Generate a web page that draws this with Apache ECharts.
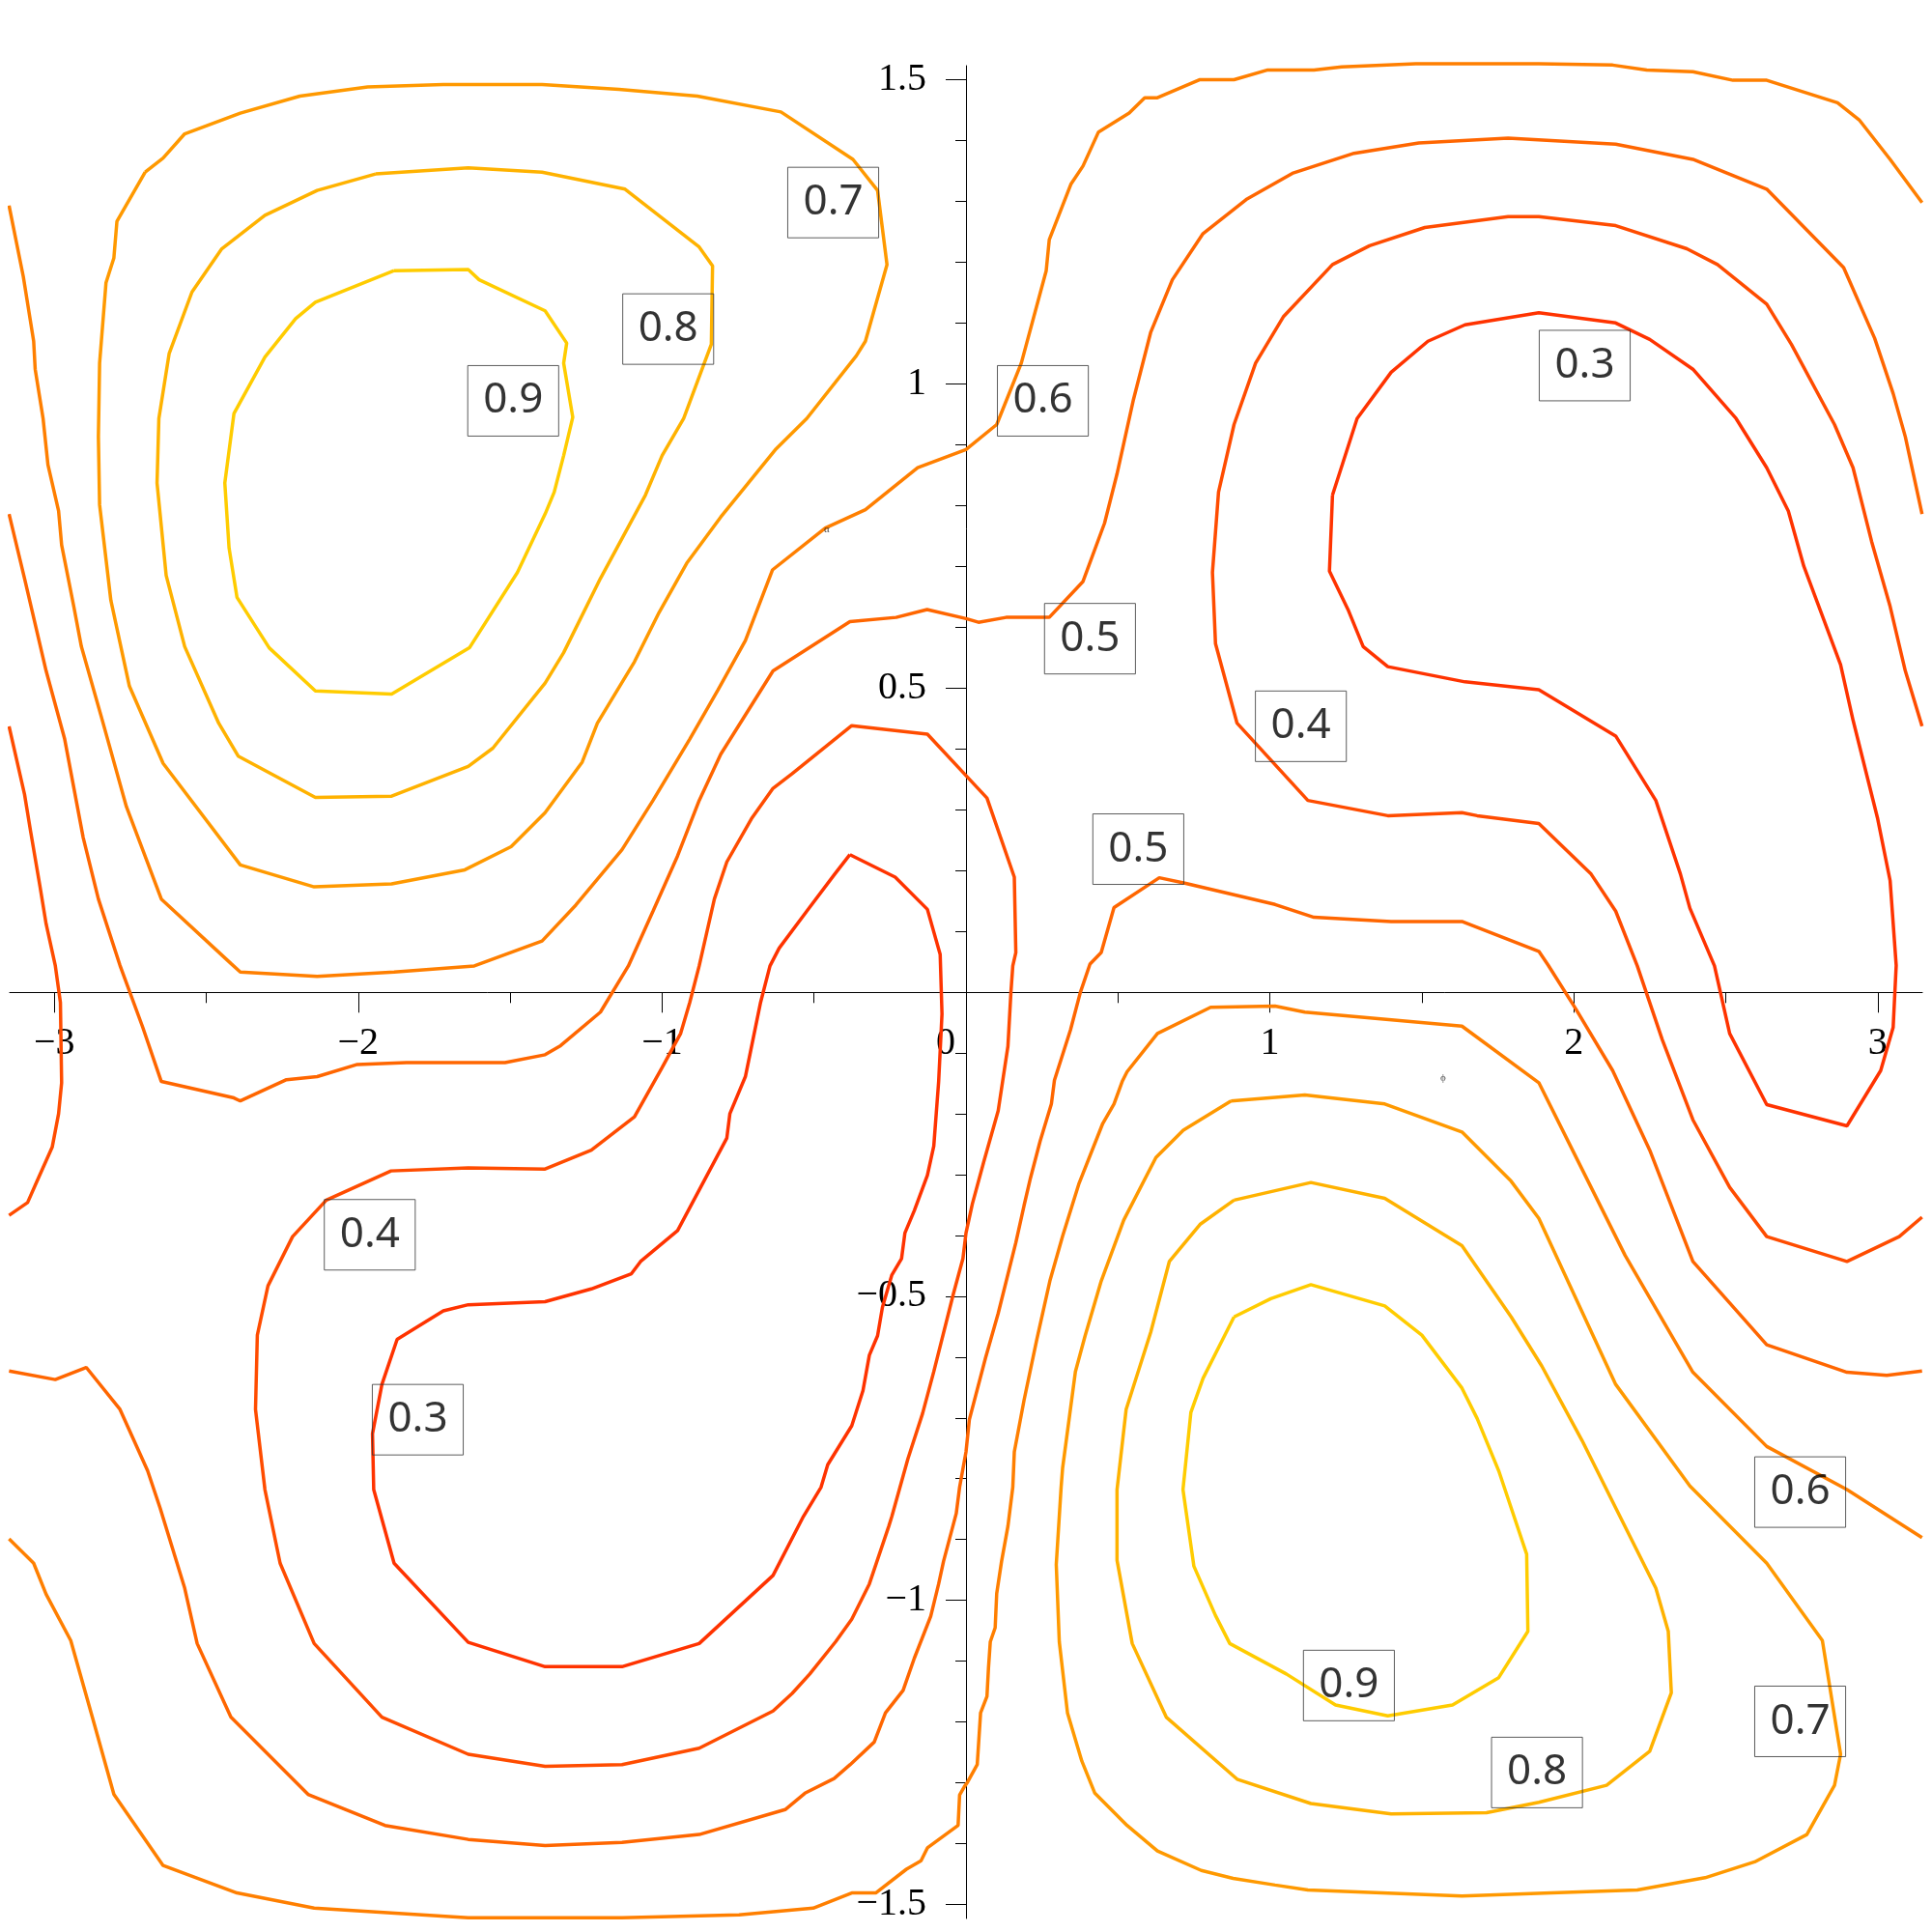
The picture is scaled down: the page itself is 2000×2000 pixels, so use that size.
<!DOCTYPE html>
<html>
<head>
<meta charset="utf-8">
<script src="https://cdn.jsdelivr.net/npm/echarts@6/dist/echarts.min.js"></script>
<style>
  html, body { margin: 0; padding: 0; background: #fff; }
  #main { width: 2000px; height: 2000px; }
</style>
</head>
<body>
<div id="main"></div>
<script>
var chartDom = document.getElementById('main');
var myChart = echarts.init(chartDom);
var option;

// axis ranges and ticks
const xRange = [-3.147, 3.147];
const yRange = [-1.523, 1.523];
const xMajor = [-3, -2, -1, 0, 1, 2, 3];
const xMinor = [-2.5, -1.5, -0.5, 0.5, 1.5, 2.5];
const yMajor = [-1.5, -1, -0.5, 0, 0.5, 1, 1.5];
const yLabels = [-1.5, -1, -0.5, 0.5, 1, 1.5];
const yMinor = [-1.4, -1.3, -1.2, -1.1, -0.9, -0.8, -0.7, -0.6, -0.4, -0.3, -0.2, -0.1,
  0.1, 0.2, 0.3, 0.4, 0.6, 0.7, 0.8, 0.9, 1.1, 1.2, 1.3, 1.4];

// contour lines, [x, y]
const c09top = [[-1.882,1.186],[-1.638,1.188],[-1.602,1.171],[-1.385,1.120],[-1.314,1.067],[-1.324,1.034],[-1.294,0.945],[-1.324,0.882],[-1.355,0.822],[-1.385,0.786],[-1.476,0.690],[-1.634,0.566],[-1.890,0.490],[-2.141,0.495],[-2.293,0.566],[-2.399,0.649],[-2.425,0.730],[-2.439,0.837],[-2.409,0.951],[-2.307,1.044],[-2.206,1.107],[-2.141,1.134],[-1.882,1.186]];
const c08top = [[-1.943,1.345],[-1.638,1.355],[-1.395,1.348],[-1.122,1.320],[-0.878,1.225],[-0.834,1.194],[-0.838,1.065],[-0.929,0.943],[-1.000,0.882],[-1.055,0.817],[-1.203,0.680],[-1.324,0.558],[-1.385,0.508],[-1.557,0.401],[-1.638,0.371],[-1.890,0.322],[-2.141,0.320],[-2.395,0.388],[-2.459,0.442],[-2.571,0.568],[-2.632,0.685],[-2.662,0.837],[-2.656,0.943],[-2.622,1.050],[-2.547,1.151],[-2.449,1.222],[-2.307,1.277],[-2.135,1.318],[-1.943,1.345]];
const c07top = [[-2.701,1.348],[-2.642,1.371],[-2.571,1.411],[-2.388,1.445],[-2.192,1.473],[-1.969,1.488],[-1.720,1.492],[-1.395,1.492],[-1.142,1.484],[-0.884,1.473],[-0.609,1.447],[-0.372,1.369],[-0.291,1.318],[-0.260,1.196],[-0.331,1.070],[-0.361,1.046],[-0.524,0.943],[-0.625,0.893],[-0.716,0.837],[-0.807,0.781],[-0.919,0.705],[-1.010,0.624],[-1.091,0.543],[-1.213,0.442],[-1.263,0.378],[-1.385,0.295],[-1.497,0.239],[-1.649,0.201],[-1.890,0.178],[-2.145,0.173],[-2.388,0.209],[-2.642,0.376],[-2.753,0.503],[-2.814,0.644],[-2.851,0.801],[-2.855,0.913],[-2.851,1.034],[-2.830,1.166],[-2.804,1.207],[-2.794,1.267],[-2.701,1.348]];
const c06top = [[-3.149,1.293],[-3.102,1.176],[-3.068,1.070],[-3.063,1.024],[-3.037,0.943],[-3.021,0.867],[-2.986,0.791],[-2.976,0.735],[-2.936,0.634],[-2.911,0.568],[-2.845,0.452],[-2.763,0.305],[-2.648,0.153],[-2.419,0.047],[-2.388,0.033],[-2.135,0.026],[-1.882,0.033],[-1.618,0.043],[-1.395,0.084],[-1.284,0.143],[-1.132,0.234],[-1.030,0.315],[-0.909,0.416],[-0.816,0.497],[-0.726,0.578],[-0.637,0.694],[-0.463,0.763],[-0.331,0.793],[-0.159,0.862],[0.000,0.892],[0.101,0.933],[0.182,1.034],[0.264,1.186],[0.274,1.237],[0.345,1.328],[0.385,1.358],[0.436,1.414],[0.537,1.445],[0.588,1.470],[0.628,1.470],[0.770,1.500],[0.882,1.500],[0.993,1.516],[1.145,1.516],[1.236,1.521],[1.480,1.526],[1.885,1.526],[2.128,1.524],[2.240,1.516],[2.392,1.513],[2.524,1.499],[2.635,1.499],[2.868,1.462],[2.939,1.434],[3.041,1.369],[3.146,1.298]];
const c05top = [[-3.149,0.786],[-3.098,0.680],[-3.027,0.528],[-2.966,0.416],[-2.905,0.254],[-2.855,0.153],[-2.784,0.044],[-2.709,-0.058],[-2.648,-0.147],[-2.409,-0.174],[-2.388,-0.179],[-2.236,-0.144],[-2.135,-0.139],[-2.003,-0.119],[-1.841,-0.116],[-1.517,-0.116],[-1.385,-0.103],[-1.334,-0.088],[-1.203,-0.033],[-1.111,0.043],[-1.030,0.133],[-0.949,0.224],[-0.878,0.315],[-0.807,0.391],[-0.635,0.528],[-0.382,0.609],[-0.230,0.616],[-0.128,0.629],[0.000,0.614],[0.041,0.608],[0.132,0.616],[0.274,0.616],[0.385,0.675],[0.456,0.771],[0.497,0.852],[0.551,0.974],[0.608,1.085],[0.679,1.171],[0.780,1.247],[0.922,1.303],[1.074,1.346],[1.277,1.379],[1.490,1.396],[1.784,1.404],[2.138,1.394],[2.392,1.369],[2.635,1.320],[2.888,1.191],[2.990,1.075],[3.051,0.984],[3.091,0.913],[3.146,0.786]];
const c04left = [[-3.149,0.437],[-3.098,0.325],[-3.078,0.264],[-3.047,0.173],[-3.027,0.112],[-2.997,0.044],[-2.980,-0.017],[-2.976,-0.149],[-2.986,-0.200],[-3.007,-0.255],[-3.057,-0.311],[-3.088,-0.346],[-3.149,-0.367]];
const c04right = [[3.146,-0.370],[3.071,-0.402],[2.899,-0.443],[2.635,-0.402],[2.513,-0.321],[2.392,-0.210],[2.291,-0.078],[2.209,0.043],[2.138,0.133],[2.057,0.194],[1.885,0.277],[1.682,0.290],[1.632,0.295],[1.388,0.290],[1.125,0.315],[0.892,0.442],[0.821,0.573],[0.811,0.690],[0.831,0.822],[0.882,0.933],[0.953,1.034],[1.044,1.110],[1.206,1.196],[1.328,1.227],[1.510,1.257],[1.784,1.275],[1.885,1.275],[2.138,1.260],[2.372,1.222],[2.473,1.196],[2.635,1.131],[2.716,1.065],[2.858,0.933],[2.919,0.862],[2.980,0.741],[3.041,0.634],[3.091,0.528],[3.146,0.437]];
const c03right = [[1.206,0.817],[1.287,0.943],[1.399,1.019],[1.520,1.070],[1.642,1.097],[1.885,1.117],[2.138,1.100],[2.250,1.073],[2.392,1.024],[2.534,0.943],[2.635,0.862],[2.706,0.791],[2.757,0.700],[2.878,0.538],[2.919,0.447],[3.000,0.285],[3.041,0.183],[3.061,0.044],[3.051,-0.058],[3.010,-0.129],[2.899,-0.220],[2.635,-0.185],[2.513,-0.068],[2.463,0.043],[2.382,0.138],[2.351,0.194],[2.270,0.315],[2.138,0.421],[1.885,0.497],[1.642,0.510],[1.388,0.535],[1.307,0.568],[1.257,0.629],[1.196,0.692],[1.206,0.817]];
const c03low = [[-0.382,0.226],[-0.233,0.189],[-0.127,0.136],[-0.085,0.062],[-0.079,-0.036],[-0.090,-0.147],[-0.106,-0.253],[-0.127,-0.301],[-0.170,-0.359],[-0.201,-0.396],[-0.212,-0.438],[-0.244,-0.465],[-0.275,-0.518],[-0.291,-0.565],[-0.318,-0.597],[-0.339,-0.655],[-0.376,-0.713],[-0.455,-0.777],[-0.477,-0.814],[-0.535,-0.862],[-0.635,-0.959],[-0.878,-1.071],[-1.132,-1.109],[-1.385,-1.109],[-1.638,-1.069],[-1.882,-0.939],[-1.949,-0.818],[-1.953,-0.726],[-1.922,-0.645],[-1.872,-0.571],[-1.720,-0.524],[-1.638,-0.514],[-1.385,-0.509],[-1.233,-0.488],[-1.101,-0.463],[-1.071,-0.443],[-0.949,-0.392],[-0.787,-0.240],[-0.777,-0.200],[-0.726,-0.139],[-0.676,-0.017],[-0.645,0.043],[-0.615,0.072],[-0.524,0.133],[-0.432,0.194],[-0.382,0.226]];
const c04low = [[-0.572,0.359],[-0.376,0.438],[-0.127,0.424],[0.000,0.356],[0.069,0.319],[0.159,0.189],[0.164,0.065],[0.154,0.043],[0.148,0.001],[0.138,-0.089],[0.106,-0.195],[0.058,-0.280],[0.021,-0.348],[0.000,-0.396],[-0.010,-0.438],[-0.042,-0.497],[-0.106,-0.624],[-0.143,-0.693],[-0.191,-0.767],[-0.244,-0.862],[-0.254,-0.878],[-0.318,-0.973],[-0.376,-1.031],[-0.429,-1.068],[-0.514,-1.121],[-0.572,-1.153],[-0.635,-1.182],[-0.878,-1.243],[-1.132,-1.270],[-1.385,-1.273],[-1.638,-1.253],[-1.922,-1.192],[-2.145,-1.071],[-2.257,-0.939],[-2.307,-0.818],[-2.338,-0.686],[-2.332,-0.564],[-2.297,-0.483],[-2.216,-0.402],[-2.105,-0.342],[-1.892,-0.294],[-1.638,-0.289],[-1.385,-0.291],[-1.233,-0.260],[-1.091,-0.205],[-1.000,-0.124],[-0.939,-0.068],[-0.909,-0.017],[-0.878,0.043],[-0.828,0.153],[-0.787,0.214],[-0.706,0.285],[-0.635,0.335],[-0.572,0.359]];
const c05low = [[-3.149,-0.623],[-2.997,-0.637],[-2.895,-0.617],[-2.784,-0.686],[-2.693,-0.787],[-2.652,-0.848],[-2.571,-0.980],[-2.530,-1.071],[-2.419,-1.192],[-2.165,-1.319],[-1.912,-1.370],[-1.638,-1.393],[-1.385,-1.403],[-1.132,-1.398],[-0.878,-1.385],[-0.595,-1.344],[-0.530,-1.317],[-0.434,-1.293],[-0.381,-1.270],[-0.302,-1.233],[-0.265,-1.185],[-0.207,-1.148],[-0.170,-1.095],[-0.116,-1.026],[-0.090,-0.973],[-0.074,-0.936],[-0.032,-0.857],[-0.021,-0.814],[0.000,-0.756],[0.011,-0.703],[0.064,-0.602],[0.106,-0.528],[0.164,-0.412],[0.191,-0.351],[0.212,-0.306],[0.244,-0.245],[0.281,-0.184],[0.291,-0.145],[0.344,-0.062],[0.376,-0.001],[0.408,0.046],[0.445,0.065],[0.487,0.139],[0.636,0.188],[0.720,0.179],[1.017,0.144],[1.145,0.123],[1.399,0.116],[1.632,0.116],[1.885,0.067],[1.916,0.044],[2.007,-0.028],[2.128,-0.129],[2.250,-0.260],[2.392,-0.443],[2.635,-0.580],[2.899,-0.625],[3.030,-0.630],[3.146,-0.623]];
const c06low = [[-3.149,-0.899],[-3.068,-0.939],[-3.027,-0.990],[-2.946,-1.066],[-2.875,-1.192],[-2.804,-1.319],[-2.642,-1.436],[-2.399,-1.481],[-2.145,-1.506],[-1.638,-1.522],[-1.132,-1.522],[-0.747,-1.517],[-0.503,-1.506],[-0.376,-1.481],[-0.297,-1.481],[-0.196,-1.442],[-0.148,-1.428],[-0.127,-1.407],[-0.026,-1.370],[-0.021,-1.320],[-0.005,-1.306],[0.005,-1.299],[0.037,-1.270],[0.048,-1.185],[0.069,-1.158],[0.074,-1.111],[0.080,-1.068],[0.096,-1.045],[0.101,-0.989],[0.117,-0.936],[0.138,-0.878],[0.154,-0.814],[0.159,-0.756],[0.191,-0.671],[0.233,-0.571],[0.276,-0.475],[0.318,-0.401],[0.371,-0.316],[0.450,-0.216],[0.487,-0.184],[0.514,-0.147],[0.530,-0.131],[0.630,-0.068],[0.805,-0.025],[1.017,-0.023],[1.115,-0.033],[1.632,-0.056],[1.885,-0.149],[2.007,-0.271],[2.169,-0.433],[2.392,-0.625],[2.635,-0.747],[2.899,-0.818],[3.146,-0.897]];
const c07low = [[0.872,-0.179],[1.115,-0.169],[1.378,-0.184],[1.632,-0.230],[1.794,-0.311],[1.885,-0.372],[2.138,-0.645],[2.382,-0.812],[2.635,-0.939],[2.818,-1.066],[2.878,-1.253],[2.858,-1.304],[2.767,-1.385],[2.595,-1.430],[2.432,-1.456],[2.209,-1.476],[1.926,-1.481],[1.632,-1.486],[1.125,-1.476],[1.017,-1.468],[0.879,-1.457],[0.774,-1.444],[0.630,-1.412],[0.530,-1.370],[0.424,-1.317],[0.381,-1.264],[0.334,-1.185],[0.307,-1.068],[0.297,-0.941],[0.313,-0.814],[0.318,-0.782],[0.339,-0.703],[0.360,-0.624],[0.392,-0.565],[0.445,-0.475],[0.519,-0.375],[0.625,-0.272],[0.715,-0.227],[0.872,-0.179]];
const c08low = [[0.882,-0.342],[1.135,-0.313],[1.378,-0.339],[1.632,-0.417],[1.794,-0.534],[1.895,-0.615],[2.027,-0.737],[2.138,-0.848],[2.270,-0.980],[2.311,-1.051],[2.321,-1.152],[2.250,-1.248],[2.108,-1.304],[1.885,-1.332],[1.713,-1.349],[1.399,-1.351],[1.135,-1.334],[0.892,-1.294],[0.659,-1.192],[0.547,-1.071],[0.497,-0.934],[0.497,-0.818],[0.527,-0.686],[0.608,-0.559],[0.669,-0.443],[0.770,-0.382],[0.882,-0.342]];
const c09low = [[0.882,-0.534],[1.003,-0.504],[1.135,-0.481],[1.378,-0.516],[1.500,-0.564],[1.632,-0.651],[1.682,-0.701],[1.753,-0.787],[1.794,-0.848],[1.845,-0.924],[1.849,-1.051],[1.753,-1.127],[1.601,-1.172],[1.388,-1.190],[1.216,-1.172],[1.054,-1.121],[0.868,-1.071],[0.821,-1.025],[0.750,-0.944],[0.714,-0.818],[0.740,-0.691],[0.780,-0.635],[0.882,-0.534]];

const contours = [
  ['0.3', c03right], ['0.3', c03low],
  ['0.4', c04left], ['0.4', c04right], ['0.4', c04low],
  ['0.5', c05top], ['0.5', c05low],
  ['0.6', c06top], ['0.6', c06low],
  ['0.7', c07top], ['0.7', c07low],
  ['0.8', c08top], ['0.8', c08low],
  ['0.9', c09top], ['0.9', c09low]
];

// boxed level labels
const labelText = ['0.7', '0.8', '0.9', '0.6', '0.3', '0.5', '0.4', '0.5', '0.4', '0.3', '0.6', '0.9', '0.8', '0.7'];
const labelX = [-0.437, -0.980, -1.490, 0.253, 2.036, 0.408, 1.102, 0.567, -1.962, -1.804, 2.745, 1.260, 1.879, 2.745];
const labelY = [1.298, 1.090, 0.972, 0.972, 1.030, 0.581, 0.437, 0.235, -0.399, -0.703, -0.822, -1.140, -1.283, -1.199];

// tiny leftover glyphs
const markText = ['\u03b1', '\u03d5'];
const markX = [-0.458, 1.570];
const markY = [0.760, -0.142];

const levelColor = {
  '0.3': '#ff3300',
  '0.4': '#ff4c00',
  '0.5': '#ff6600',
  '0.6': '#ff7f00',
  '0.7': '#ff9900',
  '0.8': '#ffb200',
  '0.9': '#ffcc00'
};

function tickText(v) {
  return v < 0 ? '\u2212' + Math.abs(v) : String(v);
}

const axisFont = {
  fontFamily: 'Liberation Serif',
  fontSize: 40,
  color: '#000'
};
const tickLine = { color: '#000', width: 1 };

// plot area, and the strips that carry the crossing axes
const plotBox = { left: 10, right: 10, top: 68, bottom: 14 };
const xAxisBox = { left: 10, right: 10, top: 0, bottom: 972.7 };
const yAxisBox = { left: 1000, right: 0, top: 68, bottom: 14 };

function box(b) {
  return Object.assign({ containLabel: false, outerBoundsMode: 'none' }, b);
}
function hiddenAxis(grid) {
  return { gridIndex: grid, type: 'value', show: false, min: 0, max: 1, axisLine: { onZero: false } };
}

let series = contours.map(function (c) {
  return {
    type: 'line',
    name: c[0],
    data: c[1],
    showSymbol: false,
    symbol: 'none',
    clip: false,
    silent: true,
    z: 2,
    lineStyle: { color: levelColor[c[0]], width: 3.5 }
  };
});

series.push({
  type: 'scatter',
  data: labelText.map(function (t, i) { return [labelX[i], labelY[i], t]; }),
  symbolSize: 1,
  itemStyle: { color: 'rgba(0,0,0,0)' },
  silent: true,
  z: 5,
  label: {
    show: true,
    position: 'inside',
    formatter: function (p) { return p.value[2]; },
    fontFamily: 'Noto Sans',
    fontSize: 44,
    lineHeight: 44,
    color: '#000',
    padding: [15, 16, 14, 16],
    borderColor: '#333',
    borderWidth: 1
  }
});

series.push({
  type: 'scatter',
  data: markText.map(function (t, i) { return [markX[i], markY[i], t]; }),
  symbolSize: 1,
  itemStyle: { color: 'rgba(0,0,0,0)' },
  silent: true,
  z: 5,
  label: {
    show: true,
    position: 'inside',
    formatter: function (p) { return p.value[2]; },
    fontFamily: 'Liberation Serif',
    fontSize: 11,
    color: '#222'
  }
});

option = {
  animation: false,
  backgroundColor: '#fff',
  grid: [box(plotBox), box(xAxisBox), box(xAxisBox), box(yAxisBox), box(yAxisBox)],
  xAxis: [
    { gridIndex: 0, type: 'value', show: false, min: xRange[0], max: xRange[1] },
    {
      gridIndex: 1,
      type: 'value',
      min: xRange[0],
      max: xRange[1],
      position: 'bottom',
      axisLine: { onZero: false, lineStyle: tickLine },
      axisTick: { customValues: xMajor, length: 21, lineStyle: tickLine },
      axisLabel: Object.assign({
        customValues: xMajor,
        margin: 33,
        formatter: function (v) { return v === 0 ? '{z|0}' : tickText(v); },
        rich: { z: Object.assign({ padding: [0, 42, 0, 0] }, axisFont) }
      }, axisFont),
      splitLine: { show: false }
    },
    {
      gridIndex: 2,
      type: 'value',
      min: xRange[0],
      max: xRange[1],
      position: 'bottom',
      axisLine: { show: false, onZero: false },
      axisTick: { customValues: xMinor, length: 11, lineStyle: tickLine },
      axisLabel: { show: false },
      splitLine: { show: false }
    },
    hiddenAxis(3),
    hiddenAxis(4)
  ],
  yAxis: [
    { gridIndex: 0, type: 'value', show: false, min: yRange[0], max: yRange[1] },
    hiddenAxis(1),
    hiddenAxis(2),
    {
      gridIndex: 3,
      type: 'value',
      min: yRange[0],
      max: yRange[1],
      position: 'left',
      axisLine: { onZero: false, lineStyle: tickLine },
      axisTick: { customValues: yMajor, length: 21, lineStyle: tickLine },
      axisLabel: Object.assign({
        customValues: yLabels,
        margin: 41,
        formatter: tickText
      }, axisFont),
      splitLine: { show: false }
    },
    {
      gridIndex: 4,
      type: 'value',
      min: yRange[0],
      max: yRange[1],
      position: 'left',
      axisLine: { show: false, onZero: false },
      axisTick: { customValues: yMinor, length: 11, lineStyle: tickLine },
      axisLabel: { show: false },
      splitLine: { show: false }
    }
  ],
  series: series
};

option && myChart.setOption(option);
</script>
</body>
</html>
